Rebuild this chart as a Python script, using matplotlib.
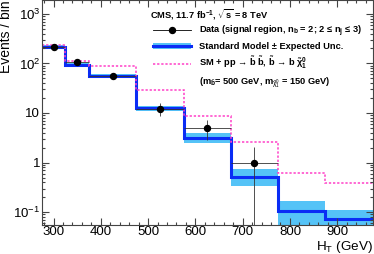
import numpy as np
import matplotlib
matplotlib.use('Agg')
import matplotlib.pyplot as plt
from matplotlib.lines import Line2D
from matplotlib.patches import Patch
from matplotlib.ticker import MultipleLocator, LogLocator, NullFormatter, FixedLocator, FixedFormatter

plt.rcParams['font.family'] = ['Liberation Sans', 'DejaVu Sans']
plt.rcParams['mathtext.fontset'] = 'custom'
plt.rcParams['mathtext.rm'] = 'Liberation Sans'
plt.rcParams['mathtext.it'] = 'Liberation Sans'
plt.rcParams['mathtext.bf'] = 'Liberation Sans:bold'

# HT bins (GeV)
bin_edges = [275, 325, 375, 475, 575, 675, 775, 875, 975]

# Standard Model prediction with uncertainty band
sm_values = [218, 95, 57, 12.4, 3.1, 0.51, 0.108, 0.072]
sm_upper = [232, 101, 61, 13.6, 3.95, 0.73, 0.17, 0.11]
sm_lower = [204, 89, 53, 11.2, 2.47, 0.33, 0.03, 0.04]

# SM + signal
signal_values = [230, 113, 88, 28.7, 8.9, 2.55, 0.63, 0.39]

# data points
data_x = [300, 350, 425, 525, 625, 725]
data_y = [218, 108, 57, 12.2, 5.0, 1.0]
data_err_lo = [15, 10, 7.5, 3.5, 2.2, 0.99]
data_err_hi = [15, 10, 7.5, 3.5, 2.3, 1.05]
data_xerr = [25, 25, 50, 50, 50, 50]

fig = plt.figure(figsize=(3.74, 2.54), dpi=100)
ax = fig.add_axes([0.1115, 0.114, 0.885, 0.886])

ax.stairs(sm_upper, bin_edges, baseline=sm_lower, fill=True, color='#55c3f7', lw=0)
ax.stairs(sm_values, bin_edges, baseline=None, color='#0a2cf5', lw=2.2)
ax.stairs(signal_values, bin_edges, baseline=None, color='#ff40c8', lw=1.1,
          linestyle=(0, (1.5, 1.2)))
ax.errorbar(data_x, data_y, yerr=[data_err_lo, data_err_hi], xerr=data_xerr,
            fmt='o', color='black', ecolor='#333333', ms=4.3, elinewidth=0.6,
            capsize=0)

ax.set_yscale('log')
ax.set_xlim(275, 975)
ax.set_ylim(0.055, 1900)

ax.xaxis.set_major_locator(MultipleLocator(100))
ax.xaxis.set_minor_locator(MultipleLocator(20))
ax.yaxis.set_major_locator(FixedLocator([0.1, 1, 10, 100, 1000]))
ax.yaxis.set_major_formatter(FixedFormatter(['$10^{-1}$', '1', '10', '$10^{2}$', '$10^{3}$']))
ax.yaxis.set_minor_locator(LogLocator(base=10, subs=np.arange(2, 10), numticks=20))
ax.yaxis.set_minor_formatter(NullFormatter())
ax.tick_params(which='both', direction='in', top=True, right=True, labelsize=9.5,
               color='#444444', width=0.8)
ax.tick_params(which='major', length=5)
ax.tick_params(which='minor', length=2.5)
ax.tick_params(axis='x', pad=0.5)
ax.tick_params(axis='y', pad=1)
for s in ax.spines.values():
    s.set_color('#444444')
    s.set_linewidth(0.8)

# axis titles in the ROOT style corners
fig.text(0.017, 1.0, 'Events / bin', rotation=90, fontsize=10, ha='center', va='top')
ax.set_xlabel('H$_{\\mathregular{T}}$ (GeV)', fontsize=9.7, ha='right', va='bottom')
ax.xaxis.set_label_coords(1.0, -0.131)

ax.text(0.327, 0.933, 'CMS, 11.7 fb$^{\\mathbf{-1}}$, $\\mathbf{\\sqrt{s}}$ = 8 TeV',
        transform=ax.transAxes, fontsize=6.7, fontweight='bold', va='center')

handles = [
    Line2D([], [], color='black', marker='o', ms=4.3, lw=0.6),
    (Patch(facecolor='#55c3f7', lw=0), Line2D([], [], color='#0a2cf5', lw=2.2)),
    Line2D([], [], color='#ff40c8', lw=1.1, linestyle=(0, (1.5, 1.2))),
    Line2D([], [], color='none'),
]
labels = [
    'Data (signal region, n$_{\\mathbf{b}}$ = 2; 2 \u2264 n$_{\\mathbf{j}}$ \u2264 3)',
    'Standard Model \u00b1 Expected Unc.',
    'SM + pp \u2192 $\\tilde{\\mathbf{b}}$ $\\tilde{\\mathbf{b}}$, '
    '$\\tilde{\\mathbf{b}}$ \u2192 b $\\tilde{\\mathbf{\\chi}}^{\\mathbf{0}}_{\\mathbf{1}}$',
    '(m$_{\\tilde{\\mathbf{b}}}$= 500 GeV, m$_{\\tilde{\\chi}^{0}_{1}}$ = 150 GeV)',
]
leg = ax.legend(handles, labels, loc='upper left', bbox_to_anchor=(0.336, 0.895),
                frameon=False, fontsize=6.7, handlelength=4.1, handletextpad=0.86,
                labelspacing=0.4, borderaxespad=0, borderpad=0)
for t in leg.get_texts():
    t.set_fontweight('bold')

plt.savefig('out.png', dpi=100)
